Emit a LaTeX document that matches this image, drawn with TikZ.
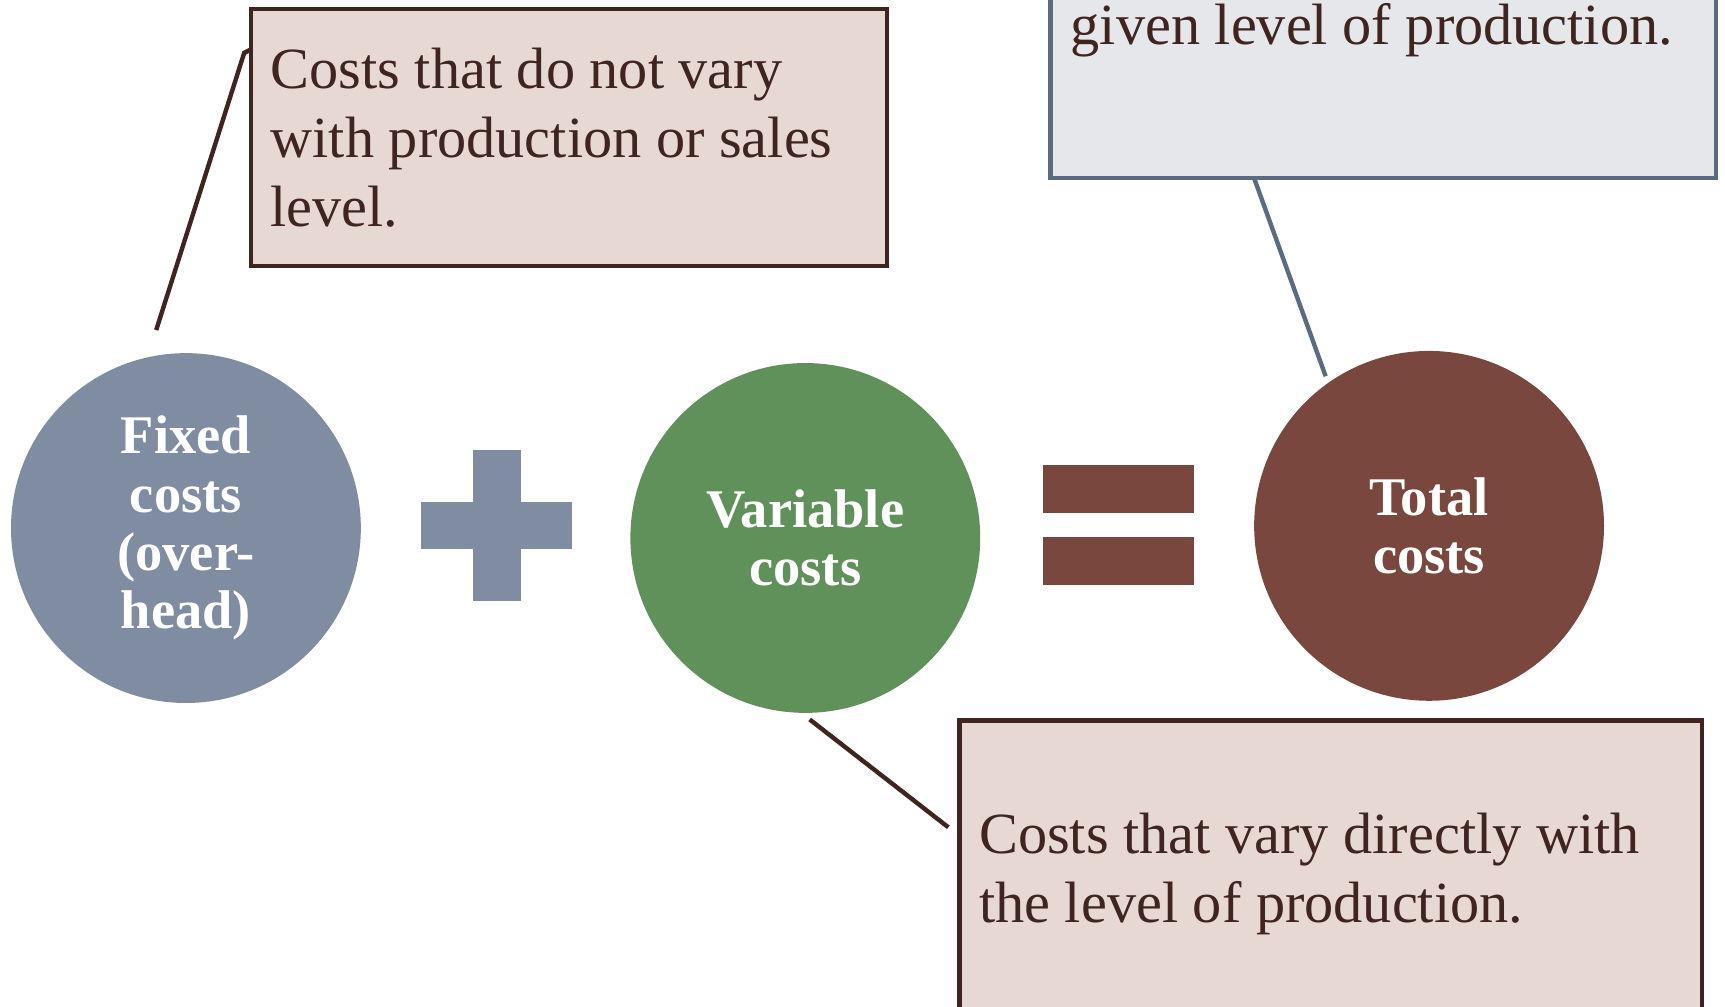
\documentclass[tikz,border=0pt]{standalone}
\usepackage{fontspec}
\setmainfont{Liberation Serif}
\definecolor{dbrown}{HTML}{3F2420}
\definecolor{pinkfill}{HTML}{E8D8D4}
\definecolor{grayfill}{HTML}{E6E7EB}
\definecolor{slate}{HTML}{5B6B80}
\definecolor{fixedc}{HTML}{7F8CA1}
\definecolor{varc}{HTML}{61915A}
\definecolor{totalc}{HTML}{79473D}
\begin{document}
\begin{tikzpicture}[x=1pt,y=-1pt,
  callbox/.style={rectangle, line width=4pt, inner sep=18pt, text=dbrown,
    font=\fontsize{53}{63}\selectfont, align=flush left},
  circ/.style={circle, minimum size=318pt, inner sep=0pt, text=white,
    font=\fontsize{49.5}{53}\selectfont\bfseries, align=center},
  leader/.style={line width=4pt}
]
\useasboundingbox (0,0) rectangle (1568,915);
\clip (0,0) rectangle (1568,915);
\fill[white] (0,0) rectangle (1568,915);

% circles
\node[circ, fill=fixedc] (fixed) at (169,480) {Fixed\\costs\\(over-\\head)};
\node[circ, fill=varc] (var) at (732,489) {Variable\\costs};
\node[circ, fill=totalc] (total) at (1299,478) {Total\\costs};

% plus sign
\fill[fixedc] (430,409) rectangle (474,546);
\fill[fixedc] (383,456) rectangle (520,499);

% equals sign
\fill[totalc] (948,423) rectangle (1085,466);
\fill[totalc] (948,488) rectangle (1085,532);

% boxes
\node[callbox, draw=dbrown, fill=pinkfill, minimum width=578pt, minimum height=234pt,
  text width=542pt] (fixbox) at (517,125)
  {Costs that do not vary\\with production or sales\\level.};

\node[callbox, draw=dbrown, fill=pinkfill, minimum width=675pt, minimum height=279pt,
  text width=639pt] (varbox) at (1209.5,794.5)
  {Costs that vary directly with\\the level of production.};

\node[draw=slate, fill=grayfill, line width=4pt, minimum width=605pt, minimum height=362pt,
  inner sep=0pt] (totbox) at (1257.5,-19) {};
\node[anchor=base west, inner sep=0pt, text=dbrown, font=\fontsize{53}{63}\selectfont]
  (tottext) at (973,40) {given level of production.};

% leaders
\coordinate (fixfree) at (142,300);
\coordinate (fixend) at (228,45);
\draw[leader, dbrown] (fixfree) -- (222,48) -- (fixend);

\coordinate (totfree) at (1205,342);
\coordinate (totend) at (1140,162);
\draw[leader, slate] (totfree) -- (totend);

\coordinate (varfree) at (736,654);
\coordinate (varend) at (862,752);
\draw[leader, dbrown] (varfree) -- (varend);
\end{tikzpicture}
\end{document}
